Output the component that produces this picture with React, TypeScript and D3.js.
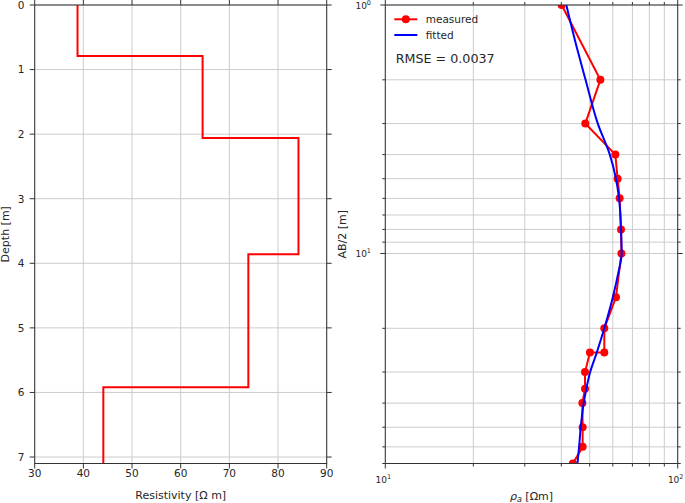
import React from "react";
import * as d3 from "d3";

// Left panel: layered resistivity model
const layerDepths = [0, 0.79, 2.06, 3.86, 5.92, 7.1];
const layerRho = [38.8, 64.5, 84.2, 73.9, 44.1];
const depthTicks = [0, 1, 2, 3, 4, 5, 6, 7];
const rhoTicks = [30, 40, 50, 60, 70, 80, 90];

// Right panel: sounding curve
const measuredAB2 = [1, 2, 3, 4, 5, 6, 8, 10, 15, 20, 25, 25, 30, 35, 40, 50, 60, 70];
const measuredRho = [40.1, 54.4, 48.3, 61.2, 62.3, 63.3, 64.0, 64.2, 61.5, 56.1, 56.1, 50.1, 48.2, 48.2, 47.2, 47.3, 47.3, 43.8];
const fittedAB2 = [1, 1.5, 2, 3, 4, 5, 6, 8, 10, 12, 15, 20, 25, 30, 35, 40, 50, 60, 70];
const fittedRho = [41.6, 45.3, 48.4, 53.3, 58.6, 61.5, 63.0, 64.0, 64.3, 62.6, 60.0, 56.1, 52.9, 50.2, 48.7, 47.7, 46.6, 46.0, 45.4];
const rmseText = "RMSE = 0.0037";
const legendLabels = ["measured", "fitted"];

const FONT = "DejaVu Sans, sans-serif";
const TXT = "#262626";
const SPINE = "#333333";
const GRID = "#cccccc";

export default function App() {
  const top = 5;
  const bottom = 463.5;
  // Left panel
  const lx0 = 34.7, lx1 = 326.7;
  const xL = d3.scaleLinear().domain([30, 90]).range([lx0, lx1]);
  const yL = d3.scaleLinear().domain([0, 7.1]).range([top, bottom]);
  // Right panel
  const rx0 = 385.3, rx1 = 677.7;
  const xR = d3.scaleLog().domain([10, 100]).range([rx0, rx1]);
  const yR = d3.scaleLog().domain([1, 70]).range([top, bottom]);

  const stepPts: [number, number][] = [];
  layerRho.forEach((r, i) => {
    stepPts.push([xL(r), yL(layerDepths[i])]);
    stepPts.push([xL(r), yL(layerDepths[i + 1])]);
  });
  const stepPath = d3.line()(stepPts) || "";

  const measPts: [number, number][] = measuredAB2.map((a, i) => [xR(measuredRho[i]), yR(a)]);
  const fitPts: [number, number][] = fittedAB2.map((a, i) => [xR(fittedRho[i]), yR(a)]);
  const measPath = d3.line()(measPts) || "";
  const fitPath = d3.line().curve(d3.curveMonotoneY)(fitPts) || "";

  const xMinorR = d3.range(2, 10).map((v) => v * 10);
  const yMinorR = [2, 3, 4, 5, 6, 7, 8, 9, 20, 30, 40, 50, 60, 70];
  const yMajorR = [1, 10];

  const tl = 5; // major tick length
  const tm = 3; // minor tick length

  return (
    <div style={{ position: "absolute", left: 0, top: 0 }}>
      <svg width={685} height={503} style={{ display: "block", background: "#fff" }} fontFamily={FONT}>
        <defs>
          <clipPath id="clipL">
            <rect x={lx0} y={top} width={lx1 - lx0} height={bottom - top} />
          </clipPath>
          <clipPath id="clipR">
            <rect x={rx0} y={top} width={rx1 - rx0} height={bottom - top} />
          </clipPath>
        </defs>

        {/* ---------- Left panel ---------- */}
        <g>
          {rhoTicks.map((t) => (
            <line key={"gx" + t} x1={xL(t)} x2={xL(t)} y1={top} y2={bottom} stroke={GRID} strokeWidth={1} />
          ))}
          {depthTicks.map((t) => (
            <line key={"gy" + t} x1={lx0} x2={lx1} y1={yL(t)} y2={yL(t)} stroke={GRID} strokeWidth={1} />
          ))}
          <path d={stepPath} fill="none" stroke="#ff0000" strokeWidth={2} clipPath="url(#clipL)" strokeLinejoin="miter" />
          <rect x={lx0} y={top} width={lx1 - lx0} height={bottom - top} fill="none" stroke={SPINE} strokeWidth={1} />
          {rhoTicks.map((t) => (
            <g key={"tx" + t}>
              <line x1={xL(t)} x2={xL(t)} y1={bottom} y2={bottom + tl} stroke={SPINE} />
              <line x1={xL(t)} x2={xL(t)} y1={top} y2={top - tl} stroke={SPINE} />
              <text x={xL(t)} y={476.5} textAnchor="middle" fontSize={10.5} fill={TXT}>{t}</text>
            </g>
          ))}
          {depthTicks.map((t) => (
            <g key={"ty" + t}>
              <line x1={lx0} x2={lx0 - tl} y1={yL(t)} y2={yL(t)} stroke={SPINE} />
              <line x1={lx1} x2={lx1 + tl} y1={yL(t)} y2={yL(t)} stroke={SPINE} />
              <text x={24.5} y={yL(t) + 3.8} textAnchor="end" fontSize={10.5} fill={TXT}>{t}</text>
            </g>
          ))}
          <text x={(lx0 + lx1) / 2} y={499} textAnchor="middle" fontSize={11} fill={TXT}>
            Resistivity [Ω m]
          </text>
          <text transform={`translate(9,${(top + bottom) / 2}) rotate(-90)`} textAnchor="middle" fontSize={11} fill={TXT}>
            Depth [m]
          </text>
        </g>

        {/* ---------- Right panel ---------- */}
        <g>
          {[10, ...xMinorR, 100].map((t) => (
            <line key={"rgx" + t} x1={xR(t)} x2={xR(t)} y1={top} y2={bottom} stroke={GRID} strokeWidth={1} />
          ))}
          {[...yMajorR, ...yMinorR].map((t) => (
            <line key={"rgy" + t} x1={rx0} x2={rx1} y1={yR(t)} y2={yR(t)} stroke={GRID} strokeWidth={1} />
          ))}
          <g clipPath="url(#clipR)">
            <path d={measPath} fill="none" stroke="#ff0000" strokeWidth={2} />
            {measPts.map((p, i) => (
              <circle key={"m" + i} cx={p[0]} cy={p[1]} r={4} fill="#ff0000" />
            ))}
            <path d={fitPath} fill="none" stroke="#0000ff" strokeWidth={2} />
          </g>
          <rect x={rx0} y={top} width={rx1 - rx0} height={bottom - top} fill="none" stroke={SPINE} strokeWidth={1} />
          {/* x ticks */}
          {[10, 100].map((t) => (
            <g key={"rtx" + t}>
              <line x1={xR(t)} x2={xR(t)} y1={bottom} y2={bottom + tl} stroke={SPINE} />
              <line x1={xR(t)} x2={xR(t)} y1={top} y2={top - tl} stroke={SPINE} />
              <text x={xR(t) - 2} y={482.5} textAnchor="middle" fontSize={9} fill={TXT}>
                10<tspan dy={-3.5} fontSize={6.5}>{Math.round(Math.log10(t))}</tspan>
              </text>
            </g>
          ))}
          {xMinorR.map((t) => (
            <g key={"rtxm" + t}>
              <line x1={xR(t)} x2={xR(t)} y1={bottom} y2={bottom + tm} stroke={SPINE} />
              <line x1={xR(t)} x2={xR(t)} y1={top} y2={top - tm} stroke={SPINE} />
            </g>
          ))}
          {/* y ticks */}
          {yMajorR.map((t) => (
            <g key={"rty" + t}>
              <line x1={rx0} x2={rx0 - tl} y1={yR(t)} y2={yR(t)} stroke={SPINE} />
              <line x1={rx1} x2={rx1 + tl} y1={yR(t)} y2={yR(t)} stroke={SPINE} />
              <text x={371} y={yR(t) + 3.5} textAnchor="end" fontSize={9} fill={TXT}>
                10<tspan dy={-3.5} fontSize={6.5}>{Math.round(Math.log10(t))}</tspan>
              </text>
            </g>
          ))}
          {yMinorR.map((t) => (
            <g key={"rtym" + t}>
              <line x1={rx0} x2={rx0 - tm} y1={yR(t)} y2={yR(t)} stroke={SPINE} />
              <line x1={rx1} x2={rx1 + tm} y1={yR(t)} y2={yR(t)} stroke={SPINE} />
            </g>
          ))}
          <text x={(rx0 + rx1) / 2} y={500} textAnchor="middle" fontSize={11} fill={TXT}>
            <tspan fontStyle="italic">ρ</tspan>
            <tspan fontStyle="italic" fontSize={8} dy={2}>a</tspan>
            <tspan dy={-2}> [Ωm]</tspan>
          </text>
          <text transform={`translate(346,${(top + bottom) / 2}) rotate(-90)`} textAnchor="middle" fontSize={11} fill={TXT}>
            AB/2 [m]
          </text>

          {/* legend */}
          <line x1={394.3} x2={417.3} y1={19.3} y2={19.3} stroke="#ff0000" strokeWidth={2} />
          <circle cx={405.8} cy={19.3} r={4} fill="#ff0000" />
          <text x={425.7} y={23} fontSize={10.5} fill={TXT}>{legendLabels[0]}</text>
          <line x1={394.3} x2={417.3} y1={35} y2={35} stroke="#0000ff" strokeWidth={2} />
          <text x={425.7} y={38.7} fontSize={10.5} fill={TXT}>{legendLabels[1]}</text>
          <text x={395.7} y={63} fontSize={12.7} fill={TXT}>{rmseText}</text>
        </g>
      </svg>
    </div>
  );
}
